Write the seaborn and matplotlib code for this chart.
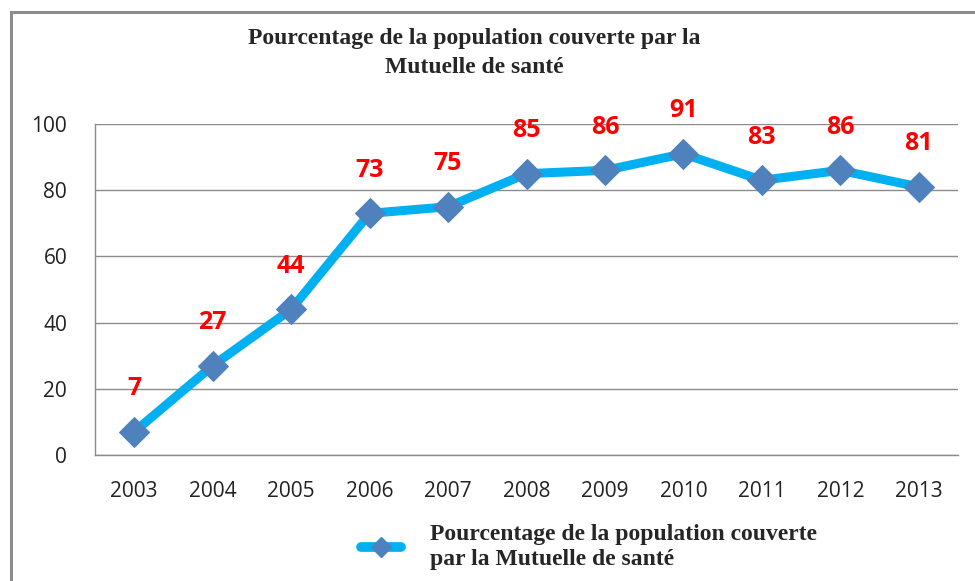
import pandas as pd
import matplotlib.pyplot as plt
import seaborn as sns
from matplotlib.patches import Rectangle
from matplotlib.lines import Line2D

# Données
annees = ["2003", "2004", "2005", "2006", "2007", "2008", "2009", "2010", "2011", "2012", "2013"]
pourcentages = [7, 27, 44, 73, 75, 85, 86, 91, 83, 86, 81]
titre = "Pourcentage de la population couverte par la\nMutuelle de santé"
legende = "Pourcentage de la population couverte\npar la Mutuelle de santé"

sns.set_theme(style="white")
plt.rcParams["font.family"] = ["Open Sans", "DejaVu Sans"]

df = pd.DataFrame({"annee": annees, "pct": pourcentages})
df["pos"] = range(len(df))

fig = plt.figure(figsize=(9.75, 5.81), dpi=100)
ax = fig.add_axes([95 / 975, 1 - 455 / 581, (958 - 95) / 975, (455 - 124) / 581])

# cadre gris du graphique
fig.add_artist(Rectangle((11 / 975, -0.2), 1.2, 1.2 - 12 / 581,
                         transform=fig.transFigure, fill=False,
                         edgecolor="#8c8c8c", linewidth=2.2))

sns.lineplot(data=df, x="pos", y="pct", ax=ax, color="#00B0F0", linewidth=6.5,
             marker="D", markersize=15, markerfacecolor="#4F81BD",
             markeredgecolor="#4F81BD", zorder=3)

# étiquettes de données en rouge
for x, y in zip(df["pos"], df["pct"]):
    ax.annotate(str(y), (x, y), xytext=(0, 31), textcoords="offset points",
                ha="center", va="center", color="red", fontsize=18,
                fontweight="bold", zorder=4)

ax.set_xlim(-0.5, len(annees) - 0.5)
ax.set_ylim(0, 100)
ax.set_yticks(range(0, 101, 20))
ax.set_xticks(df["pos"])
ax.set_xticklabels(annees)
ax.set_xticks([i - 0.5 for i in range(len(annees) + 1)], minor=True)
ax.tick_params(axis="x", which="major", length=0, pad=19, labelsize=15)
ax.tick_params(axis="x", which="minor", length=7, width=1, color="#8c8c8c", direction="out")
ax.tick_params(axis="y", length=9, width=1, color="#8c8c8c", direction="out",
               labelsize=15, pad=11)
ax.tick_params(axis="both", labelcolor="#222222")
ax.grid(axis="y", color="#8c8c8c", linewidth=1)
ax.set_axisbelow(True)
ax.set_xlabel("")
ax.set_ylabel("")
for s in ["top", "right"]:
    ax.spines[s].set_visible(False)
for s in ["left", "bottom"]:
    ax.spines[s].set_color("#8c8c8c")
    ax.spines[s].set_linewidth(1)

fig.text(474 / 975, 1 - 53 / 581, titre, ha="center", va="center",
         family=["Liberation Serif"], fontweight="bold", fontsize=17,
         linespacing=1.5)

# légende
handle = Line2D([], [], color="#00B0F0", linewidth=7, marker="D", markersize=10,
                markerfacecolor="#4F81BD", markeredgecolor="#4F81BD",
                solid_capstyle="round")
leg = fig.legend([handle], [legende], loc="center left",
                 bbox_to_anchor=(340 / 975, 1 - 547 / 581), frameon=False,
                 handlelength=1.7, handletextpad=1.2,
                 prop={"family": "Liberation Serif", "weight": "bold", "size": 17})
for t in leg.get_texts():
    t.set_linespacing(1.25)

fig.savefig("out.png", dpi=100)
